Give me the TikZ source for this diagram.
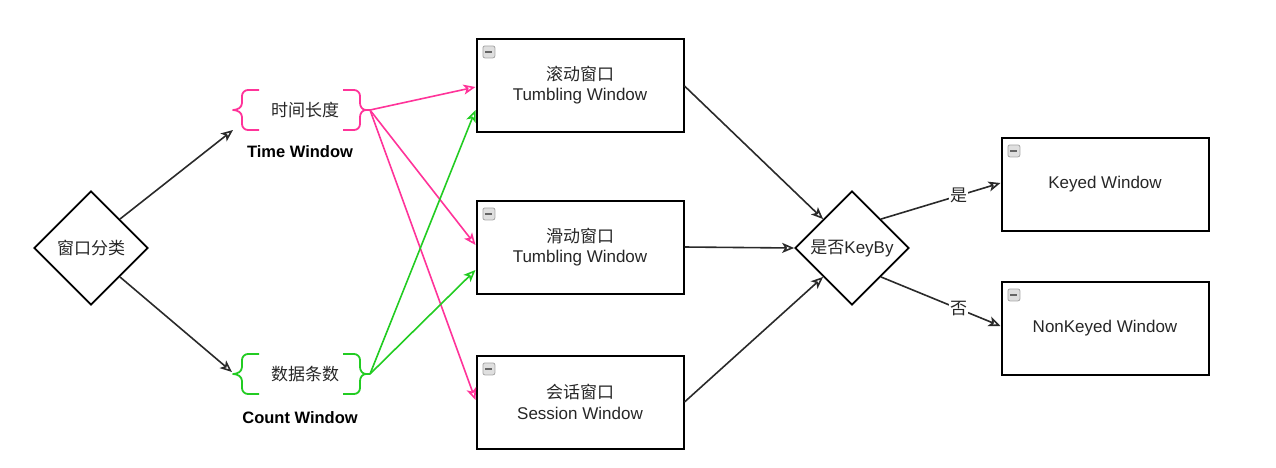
\documentclass[tikz,border=0pt]{standalone}
\usepackage{fontspec}
\setmainfont{Liberation Sans}
\newfontfamily\cjk{Noto Sans CJK SC}
\usetikzlibrary{arrows.meta,shapes.geometric}
\definecolor{pinkc}{HTML}{FF3399}
\definecolor{greenc}{HTML}{22CC22}
\definecolor{linec}{HTML}{2A2A2A}
\tikzset{
  every node/.style={font=\fontsize{17}{20.5}\selectfont, text=black!85},
  dia/.style={draw=black, line width=1.7pt, diamond, aspect=1, minimum size=114pt, inner sep=0pt},
  winbox/.style={draw=black, line width=2pt, rectangle, minimum width=207pt, minimum height=93pt, align=center},
  arr/.style={draw=linec, line width=1.6pt, -{Stealth[open, length=12pt, width=10pt, inset=3pt]}},
  parr/.style={arr, draw=pinkc},
  garr/.style={arr, draw=greenc},
  brc/.style={line width=1.8pt, line join=round},
  lbl/.style={font=\bfseries\fontsize{16.5}{20}\selectfont, text=black},
  elab/.style={fill=white, inner sep=1pt},
  icon/.style={draw=gray!70, fill=gray!25, rounded corners=2pt, minimum size=12pt, inner sep=0pt, line width=0.8pt}
}
\newcommand{\boxicon}[1]{%
  \node[icon, anchor=north west] (#1i) at ([xshift=7pt,yshift=-8pt]#1.north west) {};
  \draw[line width=1.6pt, gray!80!black] ([xshift=-3.5pt]#1i.center) -- ([xshift=3.5pt]#1i.center);}
\begin{document}
\begin{tikzpicture}[x=1pt,y=-1pt]
\useasboundingbox (0,0) rectangle (1276,467);

% left diamond
\node[dia] (cls) at (91,248) {\cjk 窗口分类};

% braces
\node (tl) at (305,110) {\cjk 时间长度};
\node (cnt) at (305,374) {\cjk 数据条数};
\node[lbl] (tw) at (300,152) {Time Window};
\node[lbl] (cw) at (300,418) {Count Window};

\coordinate (tlL) at (233,110);
\coordinate (tlR) at (370,110);
\coordinate (cnL) at (233,374);
\coordinate (cnR) at (370,374);

\draw[brc, pinkc] (259,90) -- (248,90) to[out=180,in=90] (242,96) -- (242,103) to[out=-90,in=0] (tlL)
  to[out=0,in=90] (242,117) -- (242,124) to[out=-90,in=180] (248,130) -- (259,130);
\draw[brc, pinkc] (343,90) -- (354,90) to[out=0,in=90] (360,96) -- (360,103) to[out=-90,in=180] (366,110) -- (tlR)
  (366,110) to[out=180,in=90] (360,117) -- (360,124) to[out=-90,in=0] (354,130) -- (343,130);
\draw[brc, greenc] (259,354) -- (248,354) to[out=180,in=90] (242,360) -- (242,367) to[out=-90,in=0] (cnL)
  to[out=0,in=90] (242,381) -- (242,388) to[out=-90,in=180] (248,394) -- (259,394);
\draw[brc, greenc] (343,354) -- (354,354) to[out=0,in=90] (360,360) -- (360,367) to[out=-90,in=180] (366,374) -- (cnR)
  (366,374) to[out=180,in=90] (360,381) -- (360,388) to[out=-90,in=0] (354,394) -- (343,394);

% window boxes
\node[winbox] (tumb) at (580,85) {\cjk 滚动窗口\\Tumbling Window};
\node[winbox] (slid) at (580,247) {\cjk 滑动窗口\\Tumbling Window};
\node[winbox] (sess) at (580,402) {\cjk 会话窗口\\Session Window};
\boxicon{tumb}
\boxicon{slid}
\boxicon{sess}

% keyby diamond
\node[dia] (kb) at (852,248) {{\cjk 是否}KeyBy};

% right boxes
\node[winbox] (keyed) at (1105,184) {Keyed Window};
\node[winbox] (nonk) at (1105,328) {NonKeyed Window};
\boxicon{keyed}
\boxicon{nonk}

% black arrows from classification
\draw[arr] (cls.north east) -- (tlL |- 0,130);
\draw[arr] (cls.south east) -- (232,372);

% pink arrows
\draw[parr] (tlR) -- ([yshift=-1pt]tumb.west |- 0,86);
\draw[parr] (tlR) -- (tumb.west |- 0,245);
\draw[parr] (tlR) -- (tumb.west |- 0,400);

% green arrows
\draw[garr] (cnR) -- (tumb.west |- 0,110);
\draw[garr] (cnR) -- (tumb.west |- 0,270);

% to keyby
\draw[arr] (tumb.east |- 0,86) -- (kb.north west);
\draw[arr] (slid.east) -- (kb.west);
\draw[arr] (sess.east |- 0,402) -- (kb.south west);

% keyby outputs
\draw[arr] (kb.north east) -- node[elab, pos=0.65] {\cjk 是} (keyed.west |- 0,183);
\draw[arr] (kb.south east) -- node[elab, pos=0.65] {\cjk 否} (nonk.west |- 0,326);

\end{tikzpicture}
\end{document}
